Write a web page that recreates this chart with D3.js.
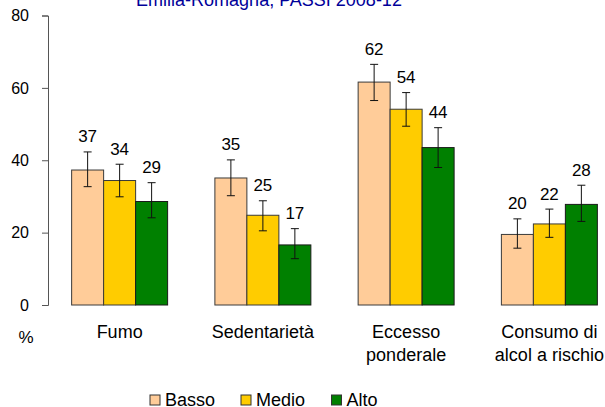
<!DOCTYPE html>
<html lang="it">
  <head>
    <meta charset="utf-8">
    <title>Emilia-Romagna, PASSI 2008-12</title>
    <style>
      html, body {
        margin: 0;
        padding: 0;
        background: #fff;
      }
      svg {
        display: block;
        font-family: "Liberation Sans", Arial, sans-serif;
      }
      .axis path, .axis line {
        stroke: #555;
      }
    </style>
    <script src="https://d3js.org/d3.v7.min.js"></script>
  </head>
  <body>
    <svg id="chart" width="605" height="407"></svg>
  </body>
  <script>
  // data
  const categories = [["Fumo"], ["Sedentarietà"], ["Eccesso", "ponderale"], ["Consumo di", "alcol a rischio"]];
  const seriesNames = ["Basso", "Medio", "Alto"];
  const seriesColors = ["#ffcc99", "#ffcc00", "#008000"];
  const basso = [37.3, 35.1, 61.6, 19.5];
  const medio = [34.4, 24.8, 54.1, 22.4];
  const alto = [28.6, 16.6, 43.5, 27.8];
  const bassoLow = [32.7, 30.2, 56.5, 15.7];
  const bassoHigh = [42.3, 40.1, 66.5, 23.8];
  const medioLow = [29.9, 20.5, 49.4, 18.7];
  const medioHigh = [38.9, 28.8, 58.7, 26.5];
  const altoLow = [24.1, 12.8, 38.0, 23.1];
  const altoHigh = [33.8, 21.1, 49.0, 33.1];
  const yTicks = [0, 20, 40, 60, 80];

  const series = [
    {values: basso, low: bassoLow, high: bassoHigh},
    {values: medio, low: medioLow, high: medioHigh},
    {values: alto, low: altoLow, high: altoHigh}
  ];

  const svg = d3.select("#chart");

  const y = d3.scaleLinear().domain([0, 80]).range([305, 15.5]);
  const x = d3.scaleBand()
    .domain(d3.range(categories.length))
    .range([48, 621])
    .paddingInner(0.33)
    .paddingOuter(0.165);
  const xs = d3.scaleBand()
    .domain(d3.range(seriesNames.length))
    .range([0, x.bandwidth()]);

  // title, cut at the top edge like the original
  svg.append("text")
    .attr("x", 269)
    .attr("y", 6)
    .attr("text-anchor", "middle")
    .attr("font-size", 18)
    .attr("fill", "#000099")
    .text("Emilia-Romagna, PASSI 2008-12");

  // y axis
  const yAxis = svg.append("g")
    .attr("class", "axis")
    .attr("transform", "translate(48,0)")
    .call(d3.axisLeft(y).tickValues(yTicks).tickSize(6).tickPadding(13));
  yAxis.selectAll("text")
    .attr("font-size", 16)
    .attr("font-family", "'Liberation Sans', Arial, sans-serif")
    .attr("fill", "#000");

  svg.append("text")
    .attr("x", 26)
    .attr("y", 343)
    .attr("text-anchor", "middle")
    .attr("font-size", 17)
    .text("%");

  // bars
  series.forEach((s, si) => {
    const g = svg.append("g");
    g.selectAll("rect")
      .data(s.values)
      .enter().append("rect")
      .attr("x", (d, i) => x(i) + xs(si))
      .attr("y", d => y(d))
      .attr("width", xs.bandwidth())
      .attr("height", d => y(0) - y(d))
      .attr("fill", seriesColors[si])
      .attr("stroke", si === 2 ? "#1a1a1a" : "#3a3a3a")
      .attr("stroke-width", 1);

    // error bars
    const eb = g.selectAll(".err")
      .data(s.values)
      .enter().append("g")
      .attr("class", "err")
      .attr("stroke", "#111")
      .attr("stroke-width", 1);
    const cx = i => x(i) + xs(si) + xs.bandwidth() / 2;
    eb.append("line")
      .attr("x1", (d, i) => cx(i)).attr("x2", (d, i) => cx(i))
      .attr("y1", (d, i) => y(s.low[i])).attr("y2", (d, i) => y(s.high[i]));
    eb.append("line")
      .attr("x1", (d, i) => cx(i) - 4).attr("x2", (d, i) => cx(i) + 4)
      .attr("y1", (d, i) => y(s.high[i])).attr("y2", (d, i) => y(s.high[i]));
    eb.append("line")
      .attr("x1", (d, i) => cx(i) - 4).attr("x2", (d, i) => cx(i) + 4)
      .attr("y1", (d, i) => y(s.low[i])).attr("y2", (d, i) => y(s.low[i]));

    // value labels
    g.selectAll(".val")
      .data(s.values)
      .enter().append("text")
      .attr("class", "val")
      .attr("x", (d, i) => cx(i))
      .attr("y", (d, i) => y(s.high[i]) - 9.5)
      .attr("text-anchor", "middle")
      .attr("font-size", 17)
      .text(d => Math.round(d));
  });

  // category labels
  const catLabels = svg.append("g")
    .selectAll("text")
    .data(categories)
    .enter().append("text")
    .attr("text-anchor", "middle")
    .attr("font-size", 18)
    .attr("transform", (d, i) => `translate(${x(i) + x.bandwidth() / 2},338)`);
  catLabels.selectAll("tspan")
    .data(d => d)
    .enter().append("tspan")
    .attr("x", 0)
    .attr("y", (d, i) => i * 23)
    .text(d => d);

  // legend
  const legendX = [150, 241, 331.5];
  const legend = svg.append("g")
    .selectAll("g")
    .data(seriesNames)
    .enter().append("g")
    .attr("transform", (d, i) => `translate(${legendX[i]},395)`);
  legend.append("rect")
    .attr("width", 10)
    .attr("height", 10)
    .attr("fill", (d, i) => seriesColors[i])
    .attr("stroke", "#333");
  legend.append("text")
    .attr("x", 15)
    .attr("y", 11)
    .attr("font-size", 18)
    .text(d => d);
  </script>
</html>
